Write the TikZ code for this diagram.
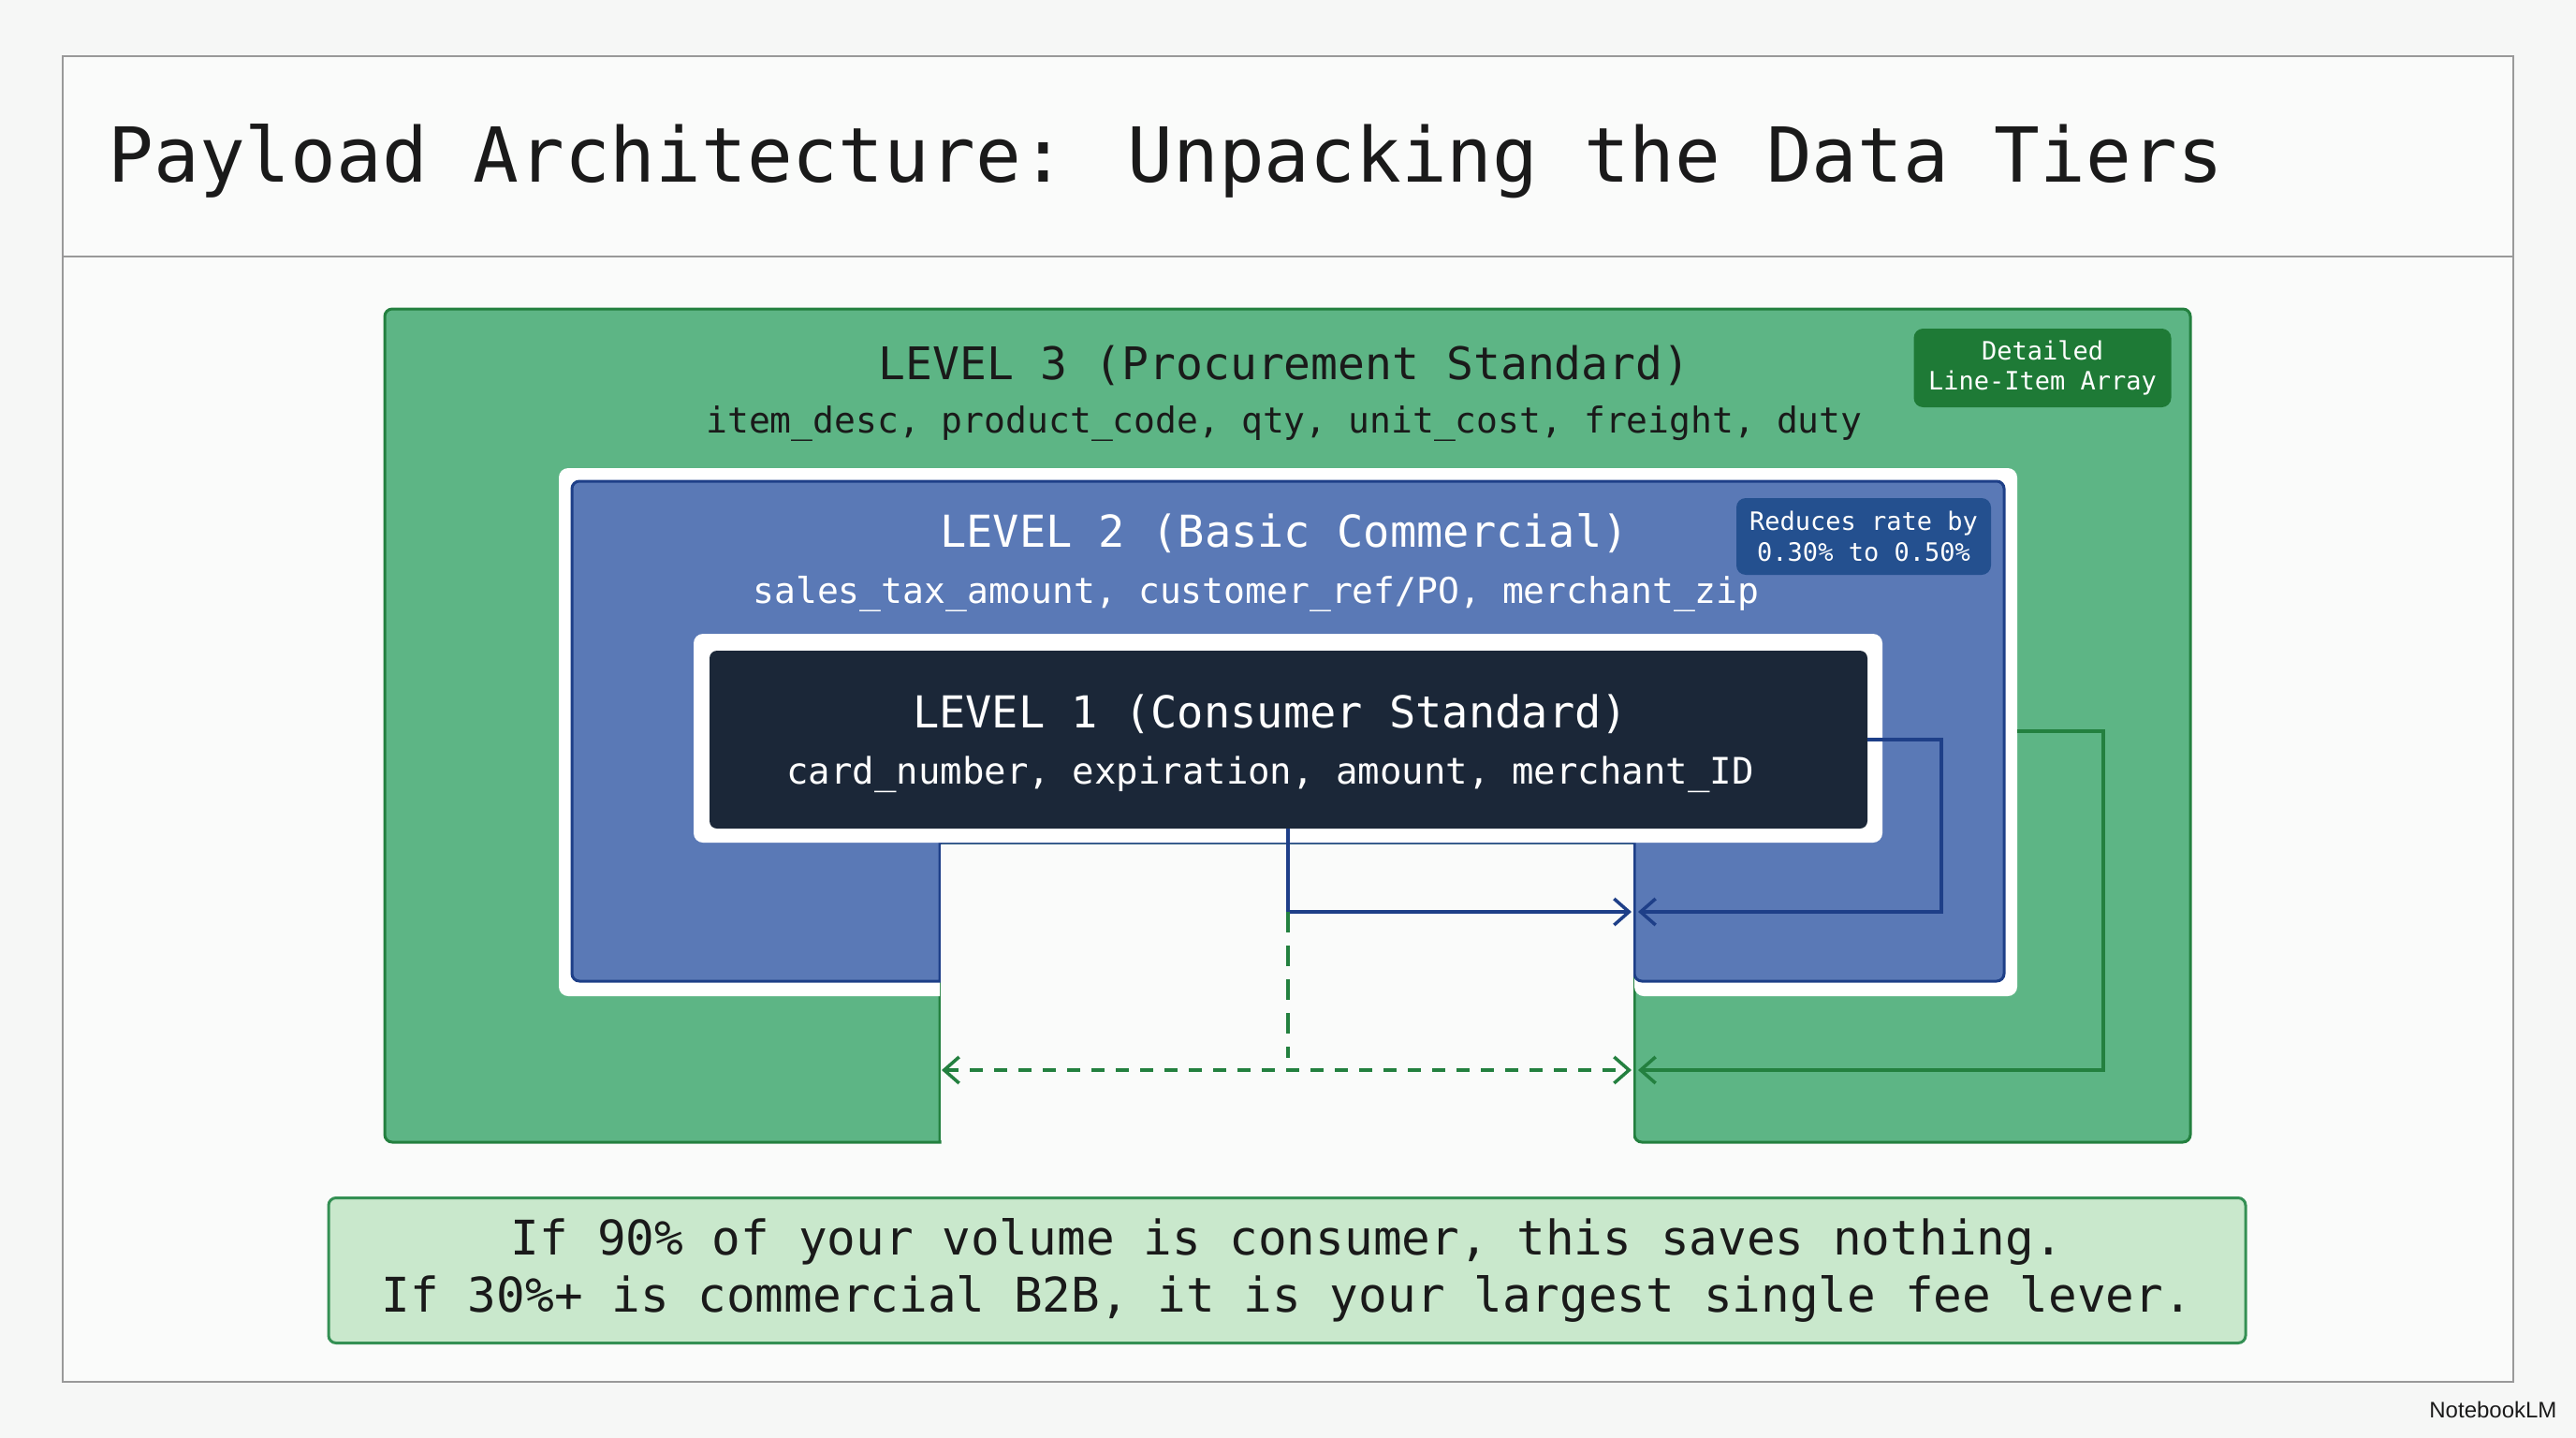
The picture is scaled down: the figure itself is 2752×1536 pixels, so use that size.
\documentclass[tikz,border=0pt]{standalone}
\usepackage{fontspec}
\setmainfont{DejaVu Sans Mono}
\newfontfamily\sansf{Liberation Sans}
\usetikzlibrary{arrows.meta}
\definecolor{bg}{HTML}{F6F7F6}
\definecolor{gfill}{HTML}{5DB585}
\definecolor{gline}{HTML}{23803F}
\definecolor{bfill}{HTML}{5A79B6}
\definecolor{bline}{HTML}{1E3F88}
\definecolor{dfill}{HTML}{1B2738}
\definecolor{gbadge}{HTML}{1E7A36}
\definecolor{bbadge}{HTML}{24508F}
\definecolor{lgreen}{HTML}{C9E8CC}
\definecolor{txt}{HTML}{1A1A1A}
\colorlet{panel}{white!50!bg}
\tikzset{
  fs/.style={font=\fontsize{#1pt}{1.2\dimexpr #1pt\relax}\selectfont},
  arr/.style={line width=3.5pt,-{Straight Barb[length=16pt,width=28pt,line width=3.5pt]}},
}
\begin{document}
\begin{tikzpicture}[x=1pt,y=-1pt]
\useasboundingbox (0,0) rectangle (2752,1536);
\fill[bg] (0,0) rectangle (2752,1536);
\draw[line width=2pt,fill=panel, draw=gray!80] (67,60) rectangle (2685,1476);
\draw[line width=2pt, draw=gray!80] (67,274) -- (2685,274);
\node[anchor=west,fs=81,text=txt] (title) at (112,172) {Payload Architecture: Unpacking the Data Tiers};
% Level 3 green
\draw[fill=gfill,draw=gline,line width=3pt,rounded corners=8pt]
 (411,330) -- (2340,330) -- (2340,1220) -- (1746,1220)[sharp corners] -- (1746,900) -- (1004,900) -- (1004,1220)[rounded corners=8pt] -- (411,1220) -- cycle;
% white frame L2
\fill[white,rounded corners=10pt]
 (597,500) -- (2155,500) -- (2155,1064) -- (1746,1064)[sharp corners] -- (1746,900) -- (1004,900) -- (1004,1064)[rounded corners=10pt] -- (597,1064) -- cycle;
\draw[fill=bfill,draw=bline,line width=3pt,rounded corners=8pt]
 (611,514) -- (2141,514) -- (2141,1048) -- (1746,1048)[sharp corners] -- (1746,900) -- (1004,900) -- (1004,1048)[rounded corners=8pt] -- (611,1048) -- cycle;
\fill[panel] (1005,902) rectangle (1745,1218);
% white frame L1
\fill[white,rounded corners=10pt] (741,677) rectangle (2011,900);
\fill[dfill,rounded corners=8pt] (758,695) rectangle (1995,885);
% texts
\node[fs=48,text=txt] (l3t) at (1372,390) {LEVEL 3 (Procurement Standard)};
\node[fs=38,text=txt] (l3f) at (1372,453) {item\_desc, product\_code, qty, unit\_cost, freight, duty};
\node[fs=47,text=white] (l2t) at (1372,570) {LEVEL 2 (Basic Commercial)};
\node[fs=38,text=white] (l2f) at (1342,634) {sales\_tax\_amount, customer\_ref/PO, merchant\_zip};
\node[fs=47,text=white] (l1t) at (1357,763) {LEVEL 1 (Consumer Standard)};
\node[fs=39,text=white] (l1f) at (1357,827) {card\_number, expiration, amount, merchant\_ID};
% badges
\node[fill=gbadge,rounded corners=10pt,minimum width=275pt,minimum height=84pt,align=center,text=white,fs=27,inner sep=0pt] (b3) at (2182,393) {Detailed\\Line-Item Array};
\node[fill=bbadge,rounded corners=10pt,minimum width=272pt,minimum height=82pt,align=center,text=white,fs=27,inner sep=0pt] (b2) at (1991,573) {Reduces rate by\\0.30\% to 0.50\%};
% connectors
\coordinate (s1) at (1376,885);
\coordinate (j1) at (1376,974);
\coordinate (t1) at (1743,974);
\coordinate (r1) at (1995,790);
\coordinate (t2) at (1750,974);
\coordinate (g0) at (2155,781);
\coordinate (t3) at (1750,1143);
\coordinate (dl) at (1006,1143);
\coordinate (dr) at (1743,1143);
\coordinate (dm) at (1376,1130);
\draw[bline,arr] (s1) -- (j1) -- (t1);
\draw[bline,arr] (r1) -- (2074,790) -- (2074,974) -- (t2);
\draw[gline,line width=3.5pt,dash pattern=on 22pt off 14pt] (j1) -- (dm);
\draw[gline,line width=3.5pt,dash pattern=on 14pt off 12pt,{Straight Barb[length=16pt,width=28pt,line width=3.5pt]}-{Straight Barb[length=16pt,width=28pt,line width=3.5pt]}] (dl) -- (dr);
\draw[gline,arr] (g0) -- (2247,781) -- (2247,1143) -- (t3);
% bottom box
\node[draw=gline!70!gfill,fill=lgreen,line width=3pt,rounded corners=8pt,minimum width=2048pt,minimum height=155pt,align=center,fs=51,text=txt,inner sep=0pt] (note) at (1375,1357) {If 90\% of your volume is consumer, this saves nothing.\\If 30\%+ is commercial B2B, it is your largest single fee lever.};
\node[anchor=east,text=txt,font=\sansf\fontsize{24pt}{28pt}\selectfont] (logo) at (2735,1506) {NotebookLM};
\end{tikzpicture}
\end{document}
